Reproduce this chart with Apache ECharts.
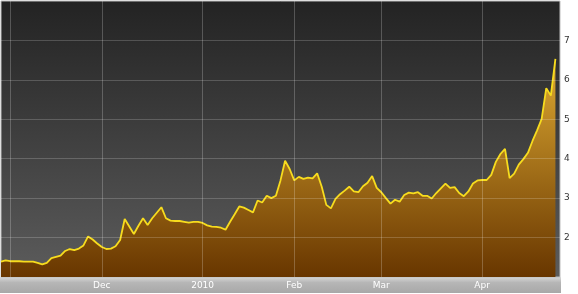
<!DOCTYPE html>
<html>
<head>
<meta charset="utf-8">
<script src="https://cdn.jsdelivr.net/npm/echarts@6/dist/echarts.min.js"></script>
<style>
html,body{margin:0;padding:0;background:#fff;}
#c{width:578px;height:294px;}
</style>
</head>
<body>
<div id="c"></div>
<script>
const dates = [
'2009-10-29','2009-10-30',
'2009-11-02','2009-11-03','2009-11-04','2009-11-05','2009-11-06',
'2009-11-09','2009-11-10','2009-11-11','2009-11-12','2009-11-13',
'2009-11-16','2009-11-17','2009-11-18','2009-11-19','2009-11-20',
'2009-11-23','2009-11-24','2009-11-25','2009-11-27','2009-11-30',
'2009-12-01','2009-12-02','2009-12-03','2009-12-04',
'2009-12-07','2009-12-08','2009-12-09','2009-12-10','2009-12-11',
'2009-12-14','2009-12-15','2009-12-16','2009-12-17','2009-12-18',
'2009-12-21','2009-12-22','2009-12-23','2009-12-24',
'2009-12-28','2009-12-29','2009-12-30','2009-12-31',
'2010-01-04','2010-01-05','2010-01-06','2010-01-07','2010-01-08',
'2010-01-11','2010-01-12','2010-01-13','2010-01-14','2010-01-15',
'2010-01-18','2010-01-19','2010-01-20','2010-01-21','2010-01-22',
'2010-01-25','2010-01-26','2010-01-27','2010-01-28','2010-01-29',
'2010-02-01','2010-02-02','2010-02-03','2010-02-04','2010-02-05',
'2010-02-08','2010-02-09','2010-02-10','2010-02-11','2010-02-12',
'2010-02-16','2010-02-17','2010-02-18','2010-02-19',
'2010-02-22','2010-02-23','2010-02-24','2010-02-25','2010-02-26',
'2010-03-01','2010-03-02','2010-03-03','2010-03-04','2010-03-05',
'2010-03-08','2010-03-09','2010-03-10','2010-03-11','2010-03-12',
'2010-03-15','2010-03-16','2010-03-17','2010-03-18','2010-03-19',
'2010-03-22','2010-03-23','2010-03-24','2010-03-25','2010-03-26',
'2010-03-29','2010-03-30',
'2010-04-01','2010-04-05','2010-04-06','2010-04-07','2010-04-08','2010-04-09',
'2010-04-12','2010-04-13','2010-04-14','2010-04-15','2010-04-16',
'2010-04-19','2010-04-20','2010-04-21','2010-04-22','2010-04-23',
'2010-04-26'
];

const prices = [
1.39,1.42,
1.40,1.40,1.40,1.39,1.39,1.39,1.36,1.32,1.36,1.48,1.51,1.54,1.66,1.71,1.68,1.72,1.80,2.03,1.95,1.85,
1.76,1.71,1.72,1.78,1.94,2.47,2.28,2.09,2.30,2.49,2.32,2.49,2.63,2.77,2.49,2.43,2.42,2.42,2.40,2.38,2.40,2.40,
2.37,2.31,2.28,2.27,2.25,2.20,2.40,2.59,2.79,2.76,2.70,2.64,2.94,2.89,3.06,3.00,3.06,3.45,3.95,3.74,
3.45,3.54,3.49,3.52,3.50,3.63,3.29,2.83,2.74,2.98,3.10,3.19,3.29,3.17,3.15,3.30,3.39,3.56,3.26,
3.15,3.00,2.86,2.96,2.91,3.08,3.14,3.12,3.15,3.06,3.06,2.99,3.13,3.25,3.37,3.26,3.28,3.13,3.05,3.17,3.37,3.45,
3.46,3.46,3.59,3.92,4.12,4.25,3.51,3.62,3.85,3.99,4.15,4.45,4.72,5.01,5.79,5.60,6.53
];

const tickMonths = ['11','12','01','02','03','04'];
const tickLabels = ['', 'Dec', '2010', 'Feb', 'Mar', 'Apr'];
const yTicks = [2,3,4,5,6,7];

function isMonthStart(i){
  if (i <= 0 || i >= dates.length) return false;
  return dates[i].slice(5,7) !== dates[i-1].slice(5,7);
}

const chart = echarts.init(document.getElementById('c'), null, {renderer:'canvas'});
chart.setOption({
  animation:false,
  backgroundColor:'#ffffff',
  graphic:[{
    type:'rect', z:-10, silent:true,
    shape:{x:0,y:277,width:561,height:16},
    style:{fill:{type:'linear',x:0,y:0,x2:0,y2:1,colorStops:[
      {offset:0,color:'#d8d8d8'},{offset:0.35,color:'#b6b6b6'},{offset:1,color:'#a8a8a8'}]}}
  }],
  grid:{
    left:1, right:18, top:1, bottom:17,
    show:true,
    borderColor:'#bdbdbd', borderWidth:1,
    backgroundColor:{type:'linear',x:0,y:0,x2:0,y2:1,colorStops:[
      {offset:0,color:'#232323'},{offset:1,color:'#5c5c5c'}]}
  },
  xAxis:{
    type:'category',
    data:dates,
    boundaryGap:false,
    max:dates.length,
    z:3,
    axisLine:{show:false},
    axisTick:{show:false},
    axisLabel:{
      interval:(i)=>isMonthStart(i),
      margin:4,
      color:'#ffffff',
      fontFamily:'DejaVu Sans',
      fontSize:9,
      formatter:(v)=>{
        if(!v) return '';
        const k = tickMonths.indexOf(v.slice(5,7));
        return k >= 0 ? tickLabels[k] : '';
      }
    },
    splitLine:{
      show:true,
      interval:(i)=>isMonthStart(i),
      lineStyle:{color:'rgba(255,255,255,0.22)',width:1}
    }
  },
  yAxis:{
    type:'value',
    position:'right',
    min:1, max:8, interval:1,
    z:3,
    axisLine:{show:false},
    axisTick:{show:false},
    axisLabel:{
      margin:4,
      color:'#333333',
      fontFamily:'DejaVu Sans',
      fontSize:9,
      formatter:(v)=> yTicks.indexOf(v) >= 0 ? String(v) : ''
    },
    splitLine:{
      show:true,
      showMinLine:false,
      showMaxLine:false,
      lineStyle:{color:'rgba(255,255,255,0.19)',width:1}
    }
  },
  series:[{
    type:'line',
    data:prices,
    showSymbol:false,
    z:2,
    lineStyle:{color:'#f7dc1e',width:1.8},
    areaStyle:{
      origin:'start',
      opacity:1,
      color:{type:'linear',x:0,y:50,x2:0,y2:277,global:true,colorStops:[
        {offset:0,color:'#e2ae34'},{offset:1,color:'#683600'}]}
    }
  }]
});
</script>
</body>
</html>
